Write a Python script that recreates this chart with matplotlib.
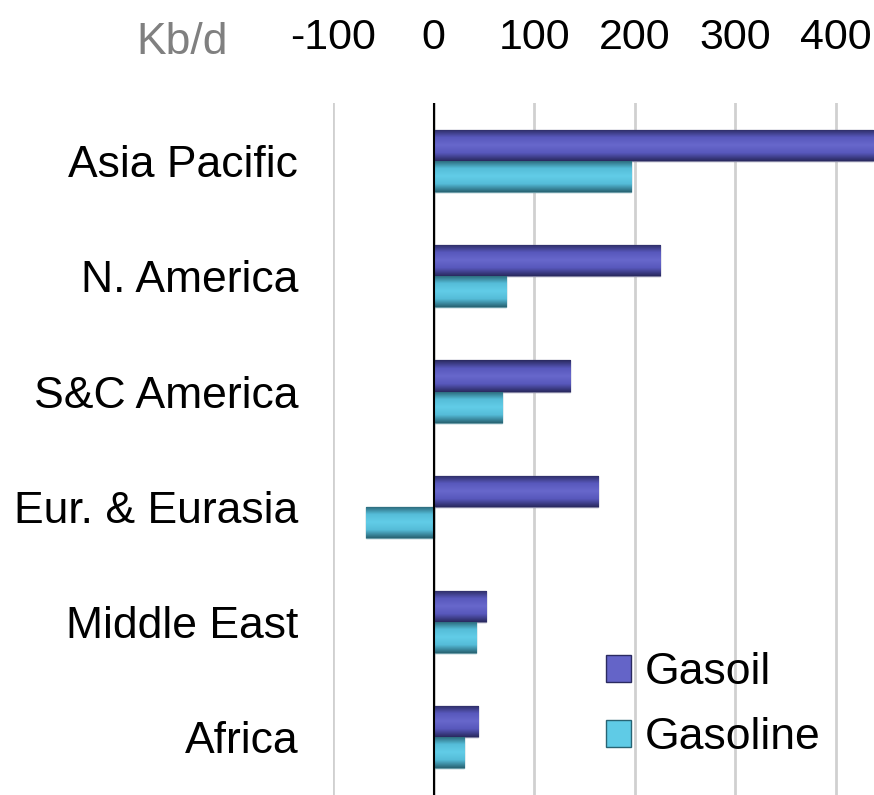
import numpy as np
import matplotlib
matplotlib.use('Agg')
import matplotlib.pyplot as plt
from matplotlib.colors import LinearSegmentedColormap

regions = ['Asia Pacific', 'N. America', 'S&C America', 'Eur. & Eurasia', 'Middle East', 'Africa']
gasoil = [437, 225, 136, 164, 52, 44]
gasoline = [196, 72, 68, -67, 42, 30]
xticks = [-100, 0, 100, 200, 300, 400]

plt.rcParams['font.family'] = ['Liberation Sans', 'DejaVu Sans']
narrow = ['Liberation Sans Narrow', 'Liberation Sans']

fig = plt.figure(figsize=(8.74, 7.95), dpi=100)
ax = fig.add_axes([0.381, 0.0, 0.619, 0.870])

y = np.arange(len(regions))
h = 0.27
b1 = ax.barh(y - h / 2, gasoil, height=h, color='#6464c8', edgecolor='#8080a0', linewidth=1, label='Gasoil', zorder=3)
b2 = ax.barh(y + h / 2, gasoline, height=h, color='#5fcbe6', edgecolor='#6a9aa6', linewidth=1, label='Gasoline', zorder=3)

# fake the shaded 3D look with a vertical gradient clipped to each bar
cm1 = LinearSegmentedColormap.from_list('g1', ['#2a2a60', '#5858bc', '#6868cc', '#5858bc', '#2a2a60'])
cm2 = LinearSegmentedColormap.from_list('g2', ['#286474', '#55bcd8', '#62cde8', '#55bcd8', '#286474'])
grad = np.linspace(0, 1, 64).reshape(-1, 1)
for bars, cm in ((b1, cm1), (b2, cm2)):
    for p in bars:
        x0, yb = p.get_x(), p.get_y()
        w, hh = p.get_width(), p.get_height()
        im = ax.imshow(grad, cmap=cm, aspect='auto', extent=(x0, x0 + w, yb + hh, yb),
                       zorder=3.5, interpolation='bilinear')
        im.set_clip_path(p)

ax.set_xlim(-100, 438)
ax.set_ylim(len(regions) - 0.5, -0.5)
ax.set_xticks(xticks)
ax.set_xticklabels([str(t) for t in xticks], family=narrow, fontsize=31)
ax.xaxis.tick_top()
ax.tick_params(axis='x', length=0, pad=33)
ax.set_yticks(y)
ax.set_yticklabels(regions, fontsize=32)
ax.tick_params(axis='y', length=0, pad=25)
for s in ax.spines.values():
    s.set_visible(False)
ax.grid(axis='x', color='#d0d0d0', linewidth=2, zorder=0)
ax.set_axisbelow(True)
ax.axvline(0, color='black', linewidth=1.5, zorder=4)

leg = ax.legend(loc='lower left', bbox_to_anchor=(0.431, -0.005), fontsize=32, frameon=False,
                handlelength=0.56, handleheight=0.56, handletextpad=0.3, labelspacing=0.55)
leg.legend_handles[0].set_edgecolor('#2a2a60')
leg.legend_handles[1].set_edgecolor('#286474')

fig.text(0.208, 0.947, 'Kb/d', fontsize=32, color='#808080', ha='center', va='center', family=narrow)

fig.savefig('out.png', dpi=100)
